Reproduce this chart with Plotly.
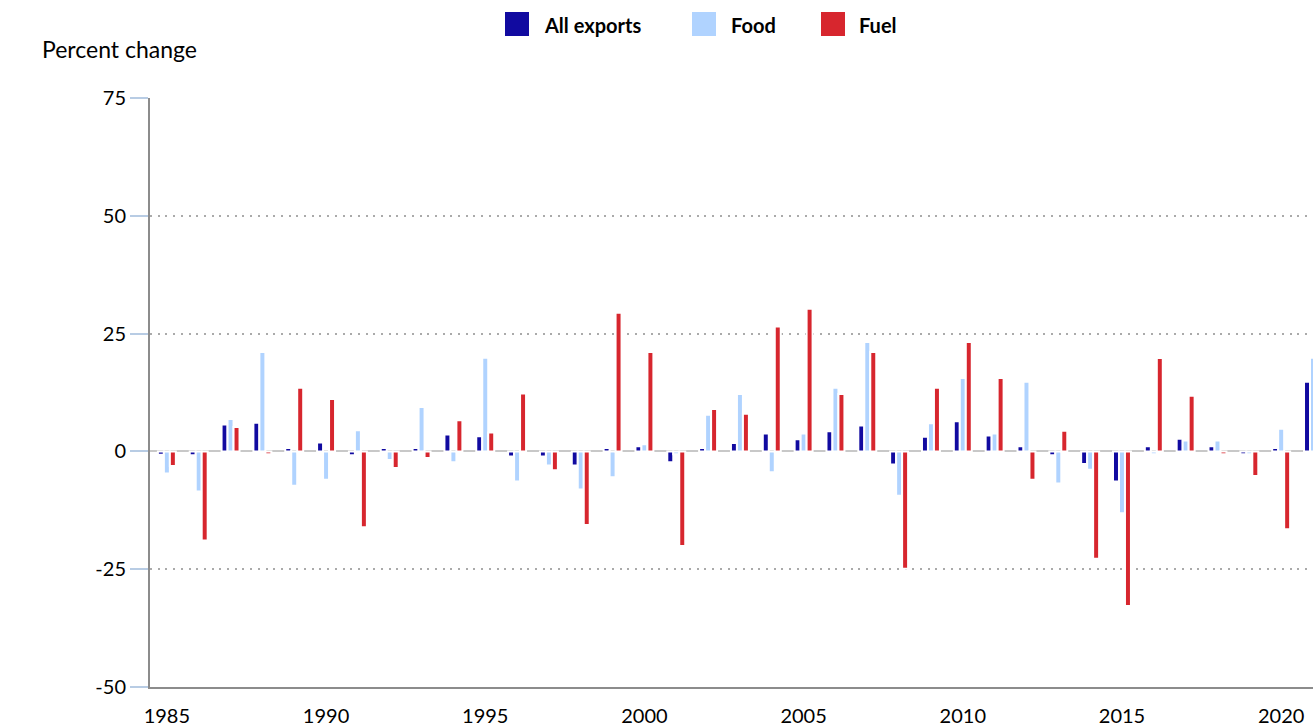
import plotly.graph_objects as go

years = list(range(1985, 2022))

all_exports = [-0.7, -0.8, 5.7, 6.1, 0.7, 1.9, -0.8, 0.7, 0.7, 3.6,
               3.2, -1.1, -1.1, -3.0, 0.7, 1.1, -2.3, 0.7, 1.8, 3.8,
               2.6, 4.3, 5.5, -2.8, 3.1, 6.4, 3.4, 1.1, -0.8, -2.7,
               -6.4, 1.1, 2.7, 1.1, -0.6, 0.7, 14.8]
food = [-4.7, -8.5, 6.9, 21.1, -7.3, -6.0, 4.5, -1.8, 9.4, -2.3,
        19.9, -6.4, -3.0, -8.1, -5.5, 1.5, -0.6, 7.8, 12.2, -4.4,
        3.8, 13.5, 23.2, -9.4, 6.0, 15.6, 3.8, 14.8, -6.8, -3.9,
        -13.1, -0.6, 2.3, 2.3, -0.6, 4.8, 19.9]
fuel = [-3.1, -18.9, 5.2, -0.6, 13.5, 11.1, -16.1, -3.5, -1.4, 6.6,
        4.0, 12.3, -4.0, -15.6, 29.4, 21.1, -20.1, 9.0, 8.0, 26.5,
        30.3, 12.2, 21.1, -24.9, 13.5, 23.2, 15.6, -6.0, 4.4, -22.8,
        -32.8, 19.8, 11.8, -0.6, -5.2, -16.5, None]

y_ticks = [75, 50, 25, 0, -25, -50]
y_tick_text = ["75", "50", "25", "0", "-25", "-50"]

series = [
    ("All exports", all_exports, "#110aa0"),
    ("Food", food, "#b0d3ff"),
    ("Fuel", fuel, "#d7262e"),
]

FONT = "Lato"

fig = go.Figure()
for name, vals, color in series:
    fig.add_trace(go.Bar(
        x=years, y=vals, name=name,
        marker_color=color,
        marker_line_color="white",
        marker_line_width=2,
        showlegend=False,
    ))

# plot area in screen pixels: x 150..1313, y 98..687
L, R, T, B = 150, 1313, 98, 687
W, H = R - L, B - T
FIG_W, FIG_H = 1313, 728


def px_x(p):
    return (p - L) / W


def px_y(p):
    return (B - p) / H


# legend drawn by hand so the swatches match
legend_items = [("All exports", "#110aa0", 505, 542),
                ("Food", "#b0d3ff", 692, 729),
                ("Fuel", "#d7262e", 821, 857)]
for text, color, sx, tx in legend_items:
    fig.add_shape(type="rect", xref="paper", yref="paper",
                  x0=px_x(sx), x1=px_x(sx + 24), y0=px_y(36), y1=px_y(12),
                  fillcolor=color, line_width=0)
    fig.add_annotation(xref="paper", yref="paper", x=px_x(tx), y=px_y(25),
                       text=f"<b>{text}</b>", showarrow=False,
                       xanchor="left", yanchor="middle",
                       font=dict(family=FONT, size=20, color="black"))

fig.add_annotation(xref="paper", yref="paper", x=px_x(40), y=px_y(49),
                   text="Percent change", showarrow=False,
                   xanchor="left", yanchor="middle",
                   font=dict(family=FONT, size=23, color="black"))

fig.update_layout(
    width=FIG_W, height=FIG_H,
    margin=dict(l=L, r=FIG_W - R, t=T, b=FIG_H - B),
    plot_bgcolor="white", paper_bgcolor="white",
    barmode="group", bargap=0.436, bargroupgap=0,
    font=dict(family=FONT, size=20, color="black"),
)
fig.update_xaxes(
    range=[1984.47, 2021.0], tick0=1985, dtick=5,
    showgrid=False, zeroline=False,
    showline=True, linecolor="#8c8c8c", linewidth=2,
    ticks="outside", ticklen=10, tickcolor="rgba(0,0,0,0)",
)
fig.update_yaxes(
    range=[-50, 75], tickvals=y_ticks, ticktext=y_tick_text,
    showgrid=True, gridcolor="#aaaaaa", gridwidth=1.5, griddash="2px,5.7px",
    zeroline=True, zerolinecolor="#c8c8c8", zerolinewidth=2,
    showline=True, linecolor="#8c8c8c", linewidth=2,
    ticks="outside", ticklen=18, tickcolor="#b8cce4", tickwidth=2,
)

# drop the default page margin so the figure sits at the window's corner
fig.write_html("out.html",
               config={"displayModeBar": False},
               post_script="document.body.style.margin='0';"
                           "document.body.style.overflow='hidden';")
